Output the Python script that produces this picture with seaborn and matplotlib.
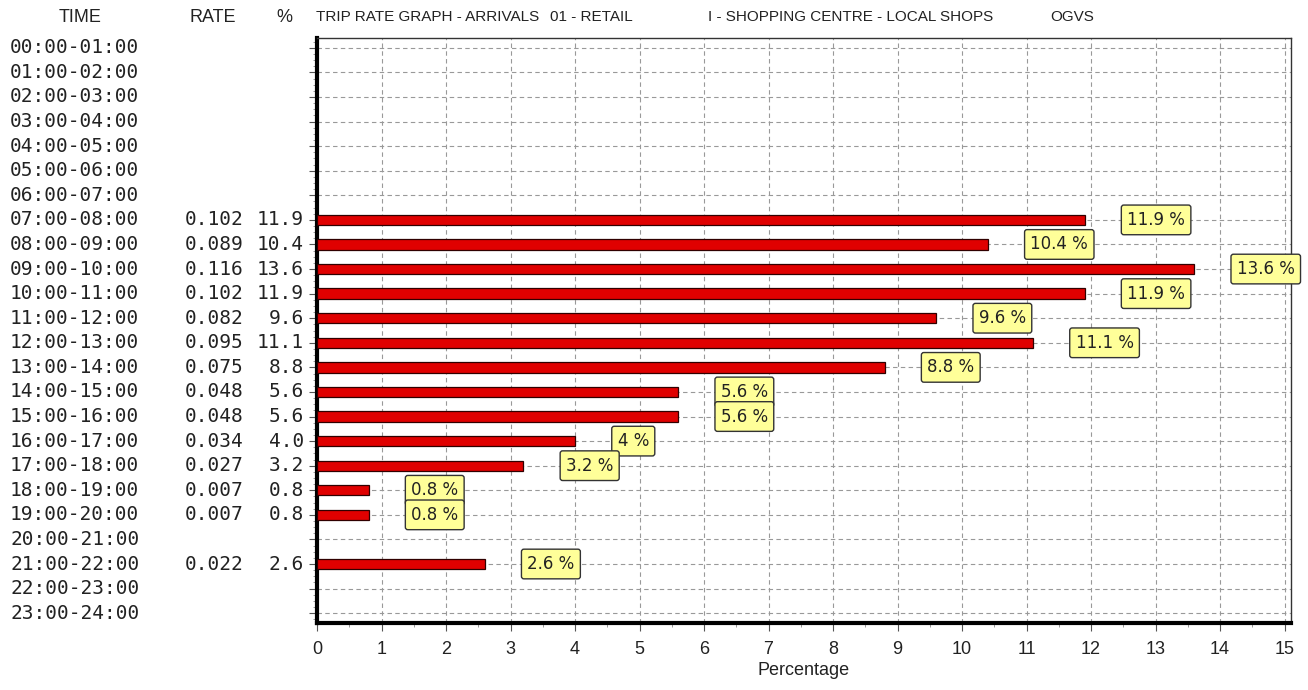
import matplotlib
matplotlib.use("Agg")
import matplotlib.pyplot as plt
import matplotlib.transforms as mtransforms
from matplotlib.ticker import MultipleLocator
import numpy as np
import pandas as pd
import seaborn as sns

# data
times = ["%02d:00-%02d:00" % (h, h + 1) for h in range(24)]
rates = [None] * 7 + [0.102, 0.089, 0.116, 0.102, 0.082, 0.095, 0.075, 0.048,
                      0.048, 0.034, 0.027, 0.007, 0.007, None, 0.022, None, None]
pcts = [None] * 7 + [11.9, 10.4, 13.6, 11.9, 9.6, 11.1, 8.8, 5.6,
                     5.6, 4.0, 3.2, 0.8, 0.8, None, 2.6, None, None]
title_parts = ["TRIP RATE GRAPH - ARRIVALS", "01 - RETAIL",
               "I - SHOPPING CENTRE - LOCAL SHOPS", "OGVS"]

df = pd.DataFrame({"time": times, "pct": [np.nan if p is None else p for p in pcts]})

sns.set_style("white")
plt.rcParams["font.family"] = ["DejaVu Sans"]
sans = ["Liberation Sans", "DejaVu Sans"]

fig = plt.figure(figsize=(13.08, 6.9), dpi=100)
ax = fig.add_axes([317 / 1308, 1 - 623 / 690, (1291 - 317) / 1308, (623 - 38) / 690])

sns.barplot(data=df, x="pct", y="time", order=times, orient="h", width=0.42,
            color="#e00000", edgecolor="#300000", linewidth=0.9, saturation=1,
            ax=ax, zorder=3)

ax.set_xlim(0, 15.1)
ax.set_ylim(23.4, -0.4)
ax.xaxis.set_major_locator(MultipleLocator(1))
ax.xaxis.set_minor_locator(MultipleLocator(0.5))
ax.set_yticks(range(24))
ax.set_yticklabels([])
ax.yaxis.set_minor_locator(MultipleLocator(0.25))
ax.tick_params(axis="y", which="major", length=6, width=0.8, color="#555555", left=True)
ax.tick_params(axis="y", which="minor", length=3, width=0.6, color="#888888", left=True)
ax.tick_params(axis="x", which="major", length=6, width=0.8, color="#555555", bottom=True,
               labelsize=13, pad=7, labelcolor="#222222")
ax.tick_params(axis="x", which="minor", length=3, width=0.6, color="#888888", bottom=True)
for lab in ax.get_xticklabels():
    lab.set_family(sans)
ax.grid(True, which="major", axis="both", linestyle=(0, (4, 3)), color="#999999",
        linewidth=0.8, zorder=0)
ax.set_axisbelow(True)
ax.set_ylabel("")
ax.set_xlabel("Percentage", fontsize=13, labelpad=3, color="#222222", family=sans)

for side in ["top", "right"]:
    ax.spines[side].set_linewidth(1.0)
    ax.spines[side].set_color("#333333")
for side in ["left", "bottom"]:
    ax.spines[side].set_linewidth(3.0)
    ax.spines[side].set_color("black")

# value boxes
for i, p in enumerate(pcts):
    if p is None:
        continue
    ax.text(p + 0.66, i, "%g %%" % p, ha="left", va="center", fontsize=12,
            color="#222222", zorder=5,
            bbox=dict(boxstyle="round,pad=0.35,rounding_size=0.15", fc="#ffff99",
                      ec="#333333", lw=1.0))

# left table
trans = mtransforms.blended_transform_factory(fig.transFigure, ax.transData)
mono = "DejaVu Sans Mono"
for i, t in enumerate(times):
    ax.text(10 / 1308, i, t, transform=trans, ha="left", va="center",
            family=mono, fontsize=14, color="#222222", clip_on=False)
    if rates[i] is not None:
        ax.text(243 / 1308, i, "%.3f" % rates[i], transform=trans, ha="right",
                va="center", family=mono, fontsize=14, color="#222222", clip_on=False)
        ax.text(304 / 1308, i, "%.1f" % pcts[i], transform=trans, ha="right",
                va="center", family=mono, fontsize=14, color="#222222", clip_on=False)

head_y = 1 - 17 / 690
fig.text(80 / 1308, head_y, "TIME", ha="center", va="center", fontsize=13,
         color="#222222", family=sans)
fig.text(213 / 1308, head_y, "RATE", ha="center", va="center", fontsize=13,
         color="#222222", family=sans)
fig.text(284 / 1308, head_y, "%", ha="center", va="center", fontsize=13,
         color="#222222", family=sans)
for x0, part in zip([316, 550, 708, 1050], title_parts):
    fig.text(x0 / 1308, head_y, part, ha="left", va="center", fontsize=11,
             color="#222222", family=sans)

fig.savefig("out.png", dpi=100, facecolor="white")
